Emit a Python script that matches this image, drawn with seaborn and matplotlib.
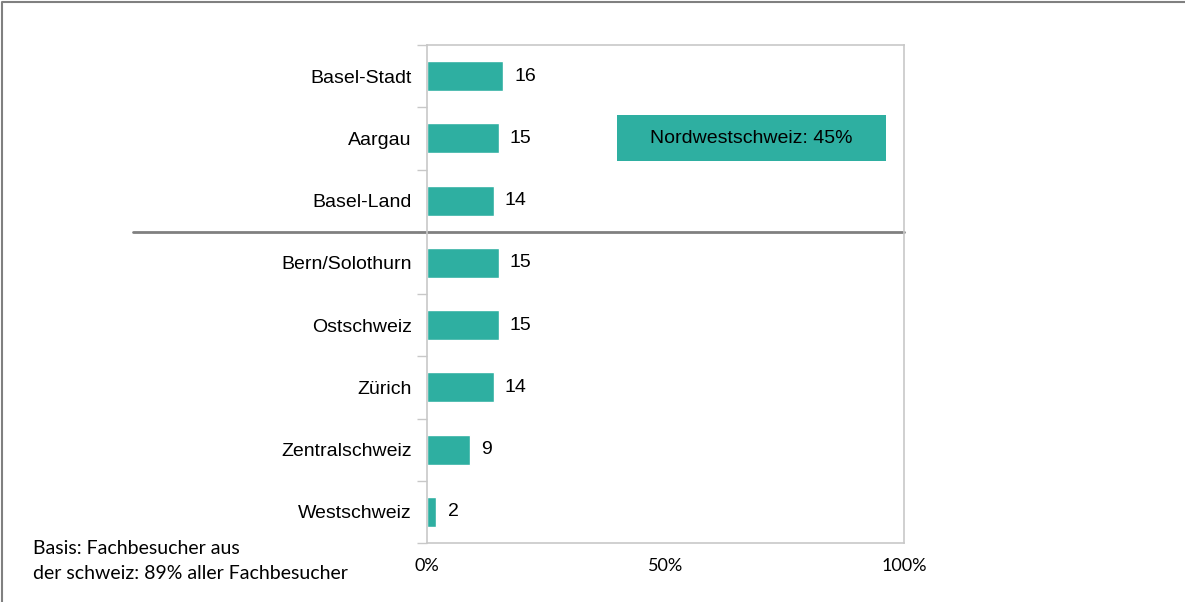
import matplotlib
matplotlib.use("Agg")
import matplotlib.pyplot as plt
import matplotlib.patches as mpatches
import matplotlib.lines as mlines
import seaborn as sns
import pandas as pd

regions = ["Basel-Stadt", "Aargau", "Basel-Land", "Bern/Solothurn",
           "Ostschweiz", "Zürich", "Zentralschweiz", "Westschweiz"]
shares = [16, 15, 14, 15, 15, 14, 9, 2]
x_ticks = [0, 50, 100]
x_tick_labels = ["0%", "50%", "100%"]
box_text = "Nordwestschweiz: 45%"
note = "Basis: Fachbesucher aus\nder schweiz: 89% aller Fachbesucher"

teal = "#2eafa1"
grid_gray = "#c8c8c8"

df = pd.DataFrame({"region": regions, "share": shares})

sns.set_style("white")
plt.rcParams["font.family"] = ["Liberation Sans", "DejaVu Sans"]
plt.rcParams["text.color"] = "black"
plt.rcParams["xtick.color"] = "black"
plt.rcParams["ytick.color"] = "black"

fig = plt.figure(figsize=(11.85, 6.02), dpi=100)
ax = fig.add_axes([0.3603, 0.098, 0.4026, 0.8272])

sns.barplot(data=df, x="share", y="region", color=teal, width=0.48,
            saturation=1, ax=ax)

ax.set_xlim(0, 100)
ax.set_ylim(len(regions) - 0.5, -0.5)
ax.set_xlabel("")
ax.set_ylabel("")

for c in ax.containers:
    ax.bar_label(c, padding=8, fontsize=14, color="black")

ax.set_xticks(x_ticks)
ax.set_xticklabels(x_tick_labels, family="Lato", fontsize=13)
ax.tick_params(axis="x", length=0, pad=11)
ax.tick_params(axis="y", which="major", left=False, length=0, pad=11,
               labelsize=14, labelcolor="black")
ax.set_yticks([i + 0.5 for i in range(-1, len(regions))], minor=True)
ax.tick_params(axis="y", which="minor", left=True, length=7, color=grid_gray,
               width=1)

for s in ax.spines.values():
    s.set_color(grid_gray)
    s.set_linewidth(1.2)

# separator between Nordwestschweiz and the other regions
trans = matplotlib.transforms.blended_transform_factory(ax.transAxes, ax.transData)
ax.plot([-0.616, 1.0], [2.5, 2.5], color="#808080", lw=2, transform=trans,
        clip_on=False)

# summary box
ax.add_patch(mpatches.Rectangle((39.8, 1 - 0.37), 56.4, 0.74, facecolor=teal,
                                edgecolor="none", zorder=3))
ax.text(68.0, 1, box_text, ha="center", va="center", fontsize=14, zorder=4)

fig.text(0.028, 0.068, note, family="Lato", fontsize=14, va="center",
         linespacing=1.55)

# frame: only top and left edges
fig.lines.append(mlines.Line2D([0.002, 0.002, 1.0], [0.0, 0.996, 0.996],
                               transform=fig.transFigure, color="#808080",
                               lw=1.5))

fig.savefig("out.png", dpi=100)
